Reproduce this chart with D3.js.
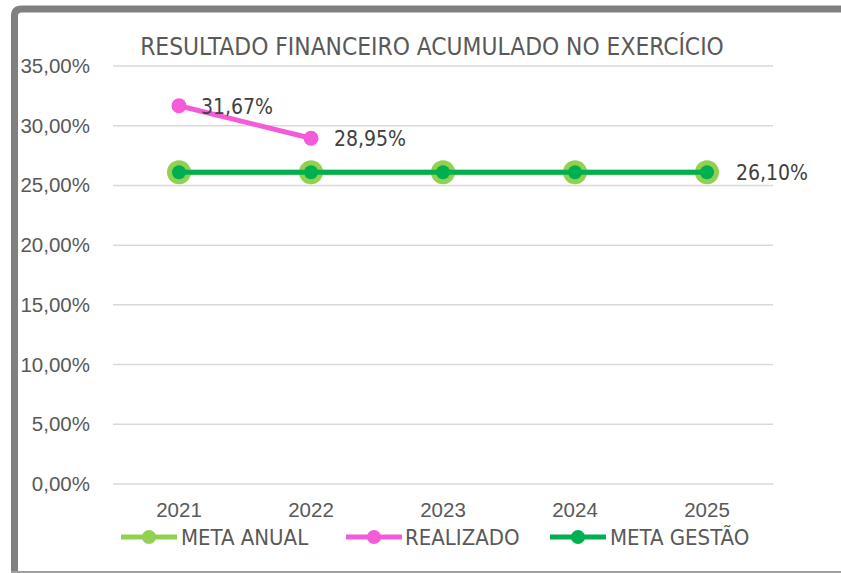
<!DOCTYPE html>
<html>
<head>
<meta charset="utf-8">
<script src="https://cdn.jsdelivr.net/npm/d3@7"></script>
<style>
  body { margin: 0; background: #fff; }
  svg { display: block; font-family: "Liberation Sans Narrow", "DejaVu Sans Condensed", sans-serif; }
</style>
</head>
<body>
<svg id="chart" width="841" height="573"></svg>
<script>
var years = ["2021", "2022", "2023", "2024", "2025"];
var metaAnual = [26.10, 26.10, 26.10, 26.10, 26.10];
var realizado = [31.67, 28.95, null, null, null];
var metaGestao = [26.10, 26.10, 26.10, 26.10, 26.10];
var yTicks = [0, 5, 10, 15, 20, 25, 30, 35];

var colorAnual = "#92D050";
var colorReal = "#F35BD9";
var colorGestao = "#00B050";
var textColor = "#595959";

var svg = d3.select("#chart");

// outer frame (only left/top/bottom visible in the crop)
svg.append("path")
  .attr("d", "M14.5,573 L14.5,16 Q14.5,9 21.5,9 L841,9")
  .attr("fill", "none")
  .attr("stroke", "#808080")
  .attr("stroke-width", 7);
svg.append("line")
  .attr("x1", 11).attr("x2", 841)
  .attr("y1", 572).attr("y2", 572)
  .attr("stroke", "#a0a0a0")
  .attr("stroke-width", 2);

var x = d3.scaleBand().domain(years).range([113, 773]);
var y = d3.scaleLinear().domain([0, 35]).range([484, 66]);

function fmt(v) {
  return v.toFixed(2).replace(".", ",") + "%";
}

// gridlines
svg.append("g").selectAll("line")
  .data(yTicks)
  .join("line")
  .attr("x1", 113).attr("x2", 773)
  .attr("y1", function(d) { return y(d); })
  .attr("y2", function(d) { return y(d); })
  .attr("stroke", "#d9d9d9")
  .attr("stroke-width", 1.5);

// y axis labels
var yAxis = svg.append("g")
  .attr("transform", "translate(90,0)")
  .call(d3.axisLeft(y).tickValues(yTicks).tickSize(0).tickPadding(0).tickFormat(fmt));
yAxis.select(".domain").remove();
yAxis.selectAll("text")
  .attr("fill", textColor)
  .style("font-size", "20.5px")
  .style("font-family", "inherit");

// x axis labels
var xAxis = svg.append("g")
  .attr("transform", "translate(0,502)")
  .call(d3.axisBottom(x).tickSize(0).tickPadding(0));
xAxis.select(".domain").remove();
xAxis.selectAll("text")
  .attr("fill", textColor)
  .style("font-size", "20.5px")
  .style("font-family", "inherit");

// title
svg.append("text")
  .attr("x", 432)
  .attr("y", 55)
  .attr("text-anchor", "middle")
  .attr("fill", textColor)
  .style("font-size", "24.3px")
  .text("RESULTADO FINANCEIRO ACUMULADO NO EXERCÍCIO");

function cx(i) { return x(years[i]) + x.bandwidth() / 2; }

var line = d3.line()
  .defined(function(d) { return d != null; })
  .x(function(d, i) { return cx(i); })
  .y(function(d) { return y(d); });

// meta anual
svg.append("path")
  .datum(metaAnual)
  .attr("fill", "none")
  .attr("stroke", colorAnual)
  .attr("stroke-width", 5)
  .attr("d", line);
svg.append("g").selectAll("circle")
  .data(metaAnual)
  .join("circle")
  .attr("cx", function(d, i) { return cx(i); })
  .attr("cy", function(d) { return y(d); })
  .attr("r", 12)
  .attr("fill", colorAnual);

// realizado
svg.append("path")
  .datum(realizado)
  .attr("fill", "none")
  .attr("stroke", colorReal)
  .attr("stroke-width", 5)
  .attr("d", line);
svg.append("g").selectAll("circle")
  .data(realizado.filter(function(d) { return d != null; }))
  .join("circle")
  .attr("cx", function(d, i) { return cx(i); })
  .attr("cy", function(d) { return y(d); })
  .attr("r", 7.5)
  .attr("fill", colorReal);

// meta gestao
svg.append("path")
  .datum(metaGestao)
  .attr("fill", "none")
  .attr("stroke", colorGestao)
  .attr("stroke-width", 5)
  .attr("d", line);
svg.append("g").selectAll("circle")
  .data(metaGestao)
  .join("circle")
  .attr("cx", function(d, i) { return cx(i); })
  .attr("cy", function(d) { return y(d); })
  .attr("r", 7)
  .attr("fill", colorGestao);

// data labels
var labels = [
  { v: realizado[0], i: 0, dx: 22 },
  { v: realizado[1], i: 1, dx: 23 },
  { v: metaGestao[4], i: 4, dx: 29 }
];
svg.append("g").selectAll("text")
  .data(labels)
  .join("text")
  .attr("x", function(d) { return cx(d.i) + d.dx; })
  .attr("y", function(d) { return y(d.v) + 8; })
  .attr("fill", "#404040")
  .style("font-size", "21px")
  .text(function(d) { return fmt(d.v); });

// legend
var legend = [
  { name: "META ANUAL", color: colorAnual, x: 121, tx: 181 },
  { name: "REALIZADO", color: colorReal, x: 346, tx: 405 },
  { name: "META GESTÃO", color: colorGestao, x: 550, tx: 610 }
];
var lg = svg.append("g").selectAll("g")
  .data(legend)
  .join("g")
  .attr("transform", function(d) { return "translate(" + d.x + ",537)"; });
lg.append("line")
  .attr("x1", 0).attr("x2", 56)
  .attr("stroke", function(d) { return d.color; })
  .attr("stroke-width", 5);
lg.append("circle")
  .attr("cx", 28)
  .attr("r", 7)
  .attr("fill", function(d) { return d.color; });
lg.append("text")
  .attr("x", function(d) { return d.tx - d.x; })
  .attr("y", 8)
  .attr("fill", textColor)
  .style("font-size", "22px")
  .text(function(d) { return d.name; });
</script>
</body>
</html>
